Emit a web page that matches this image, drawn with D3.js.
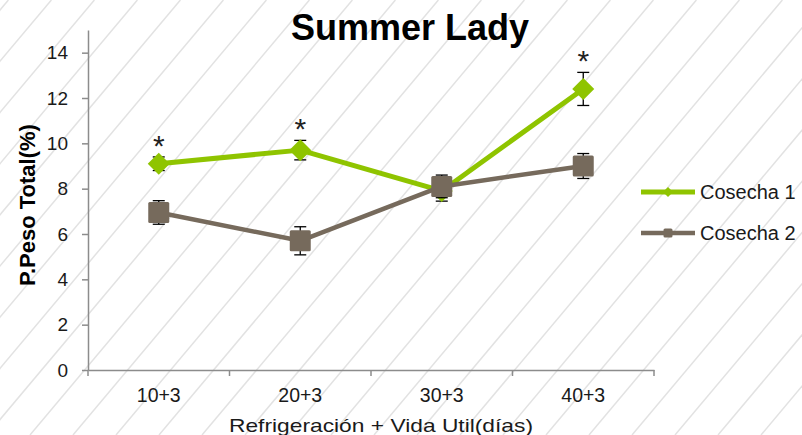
<!DOCTYPE html>
<html>
<head>
<meta charset="utf-8">
<script src="https://cdn.jsdelivr.net/npm/d3@7"></script>
<style>
  body { margin: 0; background: #fff; }
  svg { display: block; font-family: Arial, "Liberation Sans", sans-serif; }
</style>
</head>
<body>
<svg id="chart" width="802" height="435"></svg>
<script>
// data
const categories = ['10+3', '20+3', '30+3', '40+3'];
const cosecha1 = [9.1, 9.7, 7.9, 12.4];
const cosecha1Err = [0.3, 0.43, 0.45, 0.73];
const cosecha1Star = [true, true, false, true];
const cosecha2 = [6.95, 5.7, 8.1, 9.0];
const cosecha2Err = [0.52, 0.62, 0.5, 0.55];
const yTicks = [0, 2, 4, 6, 8, 10, 12, 14];

const width = 802;
const height = 435;
const svg = d3.select('#chart');

// diagonal hatch background
const hatch = svg.append('g').attr('class', 'hatch');
const slope = 0.84; // dx per dy
for (let x0 = -400; x0 < width + 40; x0 += 43) {
  hatch.append('line')
    .attr('x1', x0).attr('y1', height)
    .attr('x2', x0 + height * slope).attr('y2', 0)
    .attr('stroke', '#e2e2e2')
    .attr('stroke-width', 1.5);
}

const x = d3.scaleBand().domain(categories).range([88, 654]).padding(0);
const y = d3.scaleLinear().domain([0, 15]).range([370, 30]);
const cx = c => x(c) + x.bandwidth() / 2;

// y axis
const yAxis = svg.append('g').attr('transform', 'translate(88,0)')
  .call(d3.axisLeft(y).tickValues(yTicks).tickSize(6).tickSizeOuter(0).tickPadding(14));
yAxis.select('.domain').attr('stroke', '#8c8c8c').attr('stroke-width', 1.5);
yAxis.selectAll('.tick line').attr('stroke', '#8c8c8c').attr('stroke-width', 1.5);
yAxis.selectAll('.tick text').attr('font-size', 19).attr('fill', '#1a1a1a')
  .attr('font-family', 'Arial, "Liberation Sans", sans-serif');

// x axis, labels centred in bands, ticks on band edges
const xAxis = svg.append('g').attr('transform', 'translate(0,370)')
  .call(d3.axisBottom(x).tickSize(0).tickPadding(18));
xAxis.select('.domain').attr('stroke', '#8c8c8c').attr('stroke-width', 1.5);
xAxis.selectAll('.tick text').attr('font-size', 19.5).attr('fill', '#1a1a1a')
  .attr('font-family', 'Arial, "Liberation Sans", sans-serif');
const edges = categories.map(c => x(c)).concat([x.range()[1]]);
xAxis.selectAll('.edge').data(edges).enter().append('line')
  .attr('x1', d => d).attr('x2', d => d)
  .attr('y1', 0).attr('y2', 6)
  .attr('stroke', '#8c8c8c').attr('stroke-width', 1.5);

// titles
svg.append('text').attr('x', 410).attr('y', 40)
  .attr('text-anchor', 'middle').attr('font-size', 36).attr('font-weight', 'bold')
  .attr('fill', '#000').text('Summer Lady');
svg.append('text').attr('transform', 'translate(35,205) rotate(-90)')
  .attr('text-anchor', 'middle').attr('font-size', 22).attr('font-weight', 'bold')
  .attr('fill', '#000').text('P.Peso Total(%)');
svg.append('text').attr('x', 381).attr('y', 432)
  .attr('text-anchor', 'middle').attr('font-size', 19).attr('fill', '#1a1a1a')
  .attr('textLength', 304).attr('lengthAdjust', 'spacingAndGlyphs')
  .text('Refrigeración + Vida Util(días)');

const series = [
  { name: 'Cosecha 1', values: cosecha1, err: cosecha1Err, color: '#8fc400', lw: 5, shape: 'diamond' },
  { name: 'Cosecha 2', values: cosecha2, err: cosecha2Err, color: '#766a5c', lw: 4.5, shape: 'square' },
];

function marker(g, shape, color, px, py, s) {
  if (shape === 'diamond') {
    g.append('path')
      .attr('d', `M${px},${py - s}L${px + s},${py}L${px},${py + s}L${px - s},${py}Z`)
      .attr('fill', color);
  } else {
    g.append('rect').attr('x', px - s).attr('y', py - s)
      .attr('width', 2 * s).attr('height', 2 * s).attr('rx', 1.5)
      .attr('fill', color);
  }
}

const line = d3.line().x((d, i) => cx(categories[i])).y(d => y(d));

series.forEach((s) => {
  const g = svg.append('g');
  g.append('path').datum(s.values).attr('d', line)
    .attr('fill', 'none').attr('stroke', s.color).attr('stroke-width', s.lw)
    .attr('stroke-linejoin', 'round');
  // error bars
  s.values.forEach((v, i) => {
    const px = cx(categories[i]);
    const eb = g.append('g').attr('stroke', '#000').attr('stroke-width', 1.3);
    eb.append('line').attr('x1', px).attr('x2', px)
      .attr('y1', y(v - s.err[i])).attr('y2', y(v + s.err[i]));
    [v - s.err[i], v + s.err[i]].forEach((e) => {
      eb.append('line').attr('x1', px - 6).attr('x2', px + 6)
        .attr('y1', y(e)).attr('y2', y(e));
    });
  });
  s.values.forEach((v, i) => {
    marker(g, s.shape, s.color, cx(categories[i]), y(v), s.shape === 'diamond' ? 11 : 10.5);
  });
});

// significance stars
cosecha1.forEach((v, i) => {
  if (!cosecha1Star[i]) return;
  svg.append('text').attr('x', cx(categories[i])).attr('y', y(v + cosecha1Err[i]) - 1)
    .attr('text-anchor', 'middle').attr('font-size', 30).attr('fill', '#222').text('*');
});

// legend
series.forEach((s, i) => {
  const ly = 192 + i * 41;
  const lg = svg.append('g');
  lg.append('line').attr('x1', 641).attr('x2', 695).attr('y1', ly).attr('y2', ly)
    .attr('stroke', s.color).attr('stroke-width', s.lw);
  marker(lg, s.shape, s.color, 668, ly, s.shape === 'diamond' ? 5 : 4.5);
  lg.append('text').attr('x', 700).attr('y', ly + 7)
    .attr('font-size', 20).attr('fill', '#1a1a1a').text(s.name);
});
</script>
</body>
</html>
